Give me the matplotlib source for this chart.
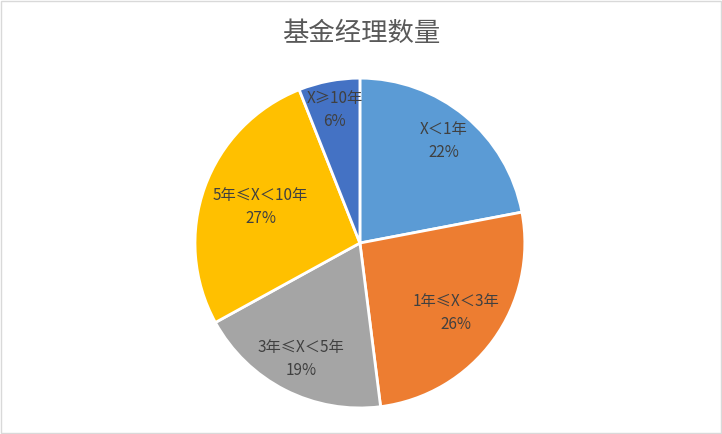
import numpy as np
import matplotlib.pyplot as plt
from matplotlib.patches import Rectangle

plt.rcParams['font.family'] = ['Noto Sans CJK SC', 'DejaVu Sans']

categories = ['X＜1年', '1年≤X＜3年', '3年≤X＜5年', '5年≤X＜10年', 'X≥10年']
shares = [22, 26, 19, 27, 6]
colors = ['#5B9BD5', '#ED7D31', '#A5A5A5', '#FFC000', '#4472C4']
# how far from the centre each label sits (fraction of radius)
label_dist = [0.80, 0.72, 0.79, 0.64, 0.82]

fig = plt.figure(figsize=(7.22, 4.34), dpi=100)
ax = fig.add_axes([0.270, 0.060, 0.457, 0.76])

labels = [c + '\n' + str(v) + '%' for c, v in zip(categories, shares)]
wedges, texts = ax.pie(shares, colors=colors, startangle=90, counterclock=False,
                       labels=labels, labeldistance=0.8,
                       wedgeprops=dict(edgecolor='white', linewidth=2))
for w, t, d in zip(wedges, texts, label_dist):
    ang = np.deg2rad((w.theta1 + w.theta2) / 2)
    t.set_position((d * np.cos(ang), d * np.sin(ang)))
    t.set_ha('center')
    t.set_va('center')
    t.set_color('#404040')
    t.set_fontsize(11)
    t.set_linespacing(1.45)
ax.set_xlim(-1, 1)
ax.set_ylim(-1, 1)
ax.set_aspect('equal')

fig.text(0.5, 0.922, '基金经理数量', ha='center', va='center', fontsize=19, color='#595959')
fig.patches.append(Rectangle((0.001, 0.002), 0.997, 0.996, transform=fig.transFigure,
                             fill=False, edgecolor='#D9D9D9', linewidth=1))

plt.savefig('out.png', dpi=100)
